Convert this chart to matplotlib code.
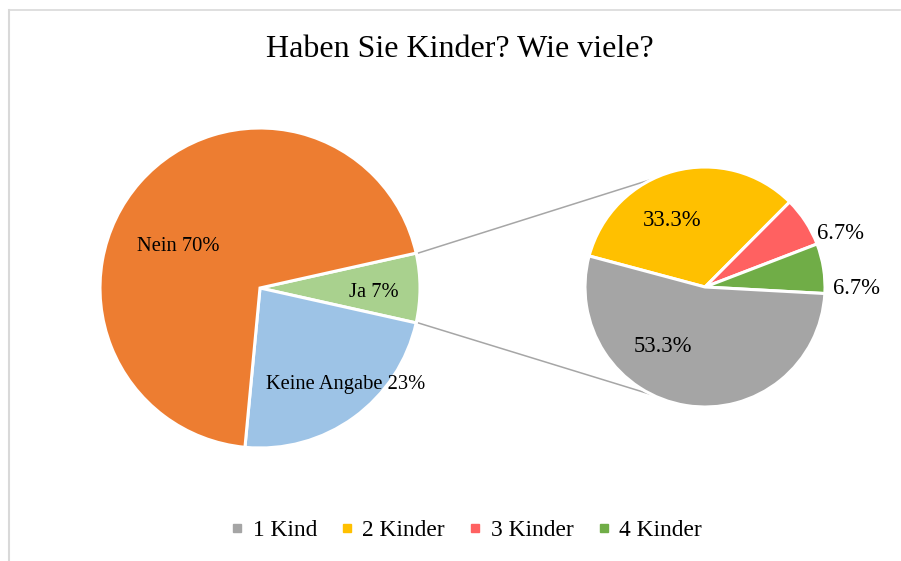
import numpy as np
import matplotlib.pyplot as plt
from matplotlib.lines import Line2D

plt.rcParams['font.family'] = ['Liberation Serif', 'DejaVu Serif']

# main pie
main_labels = ["Ja", "Keine Angabe", "Nein"]
main_values = [7, 23, 70]
main_colors = ["#A9D18E", "#9DC3E6", "#ED7D31"]

# second pie (breakdown of "Ja")
sub_labels = ["2 Kinder", "3 Kinder", "4 Kinder", "1 Kind"]
sub_values = [33.3, 6.7, 6.7, 53.3]
sub_colors = ["#FFC000", "#FF6161", "#70AD47", "#A5A5A5"]
legend_order = ["1 Kind", "2 Kinder", "3 Kinder", "4 Kinder"]

W, H = 901, 561
fig = plt.figure(figsize=(W / 100, H / 100), dpi=100)
ax = fig.add_axes([0, 0, 1, 1])

c1, r1 = (260, H - 288), 160
c2, r2 = (705, H - 287), 120

ja_half = main_values[0] / sum(main_values) * 180
w1, _ = ax.pie(main_values, colors=main_colors, startangle=ja_half,
               counterclock=False, center=c1, radius=r1,
               wedgeprops=dict(edgecolor="white", linewidth=2.2))
w2, _ = ax.pie(sub_values, colors=sub_colors, startangle=165,
               counterclock=False, center=c2, radius=r2,
               wedgeprops=dict(edgecolor="white", linewidth=2.2))

# connector lines
for a1, a2 in [(ja_half, 116), (-ja_half, -116)]:
    p1 = (c1[0] + r1 * np.cos(np.radians(a1)), c1[1] + r1 * np.sin(np.radians(a1)))
    p2 = (c2[0] + r2 * np.cos(np.radians(a2)), c2[1] + r2 * np.sin(np.radians(a2)))
    ax.plot([p1[0] + 2, p2[0]], [p1[1], p2[1]], color="#A6A6A6", lw=1.1, zorder=0)

# labels
main_pos = [(374, 292), (346, 385), (178, 246)]
for lab, v, (x, y) in zip(main_labels, main_values, main_pos):
    ax.text(x, H - y, f"{lab} {v}%", ha="center", va="center", fontsize=14.8)

sub_pos = [(672, 220), (841, 233), (856, 288), (663, 347)]
for v, (x, y) in zip(sub_values, sub_pos):
    ax.text(x, H - y, f"{v:.1f}%", ha="center", va="center", fontsize=16.3)

ax.text(460, H - 49, "Haben Sie Kinder? Wie viele?", ha="center", va="center",
        fontsize=23)

handles = [Line2D([], [], marker="s", ls="", ms=6, color=sub_colors[sub_labels.index(l)])
           for l in legend_order]
ax.legend(handles, legend_order, loc="center", bbox_to_anchor=(466 / W, 1 - 530 / H),
          ncol=4, frameon=False, fontsize=16.8, handlelength=0.6, handletextpad=0.35,
          columnspacing=1.0)

# chart frame
ax.plot([9, 9], [0, H - 10], color="#D9D9D9", lw=1.5)
ax.plot([9, 900], [H - 10, H - 10], color="#D9D9D9", lw=1.2)

ax.set_xlim(0, W)
ax.set_ylim(0, H)
ax.set_aspect("auto")
ax.axis("off")

fig.savefig("out.png", dpi=100)
